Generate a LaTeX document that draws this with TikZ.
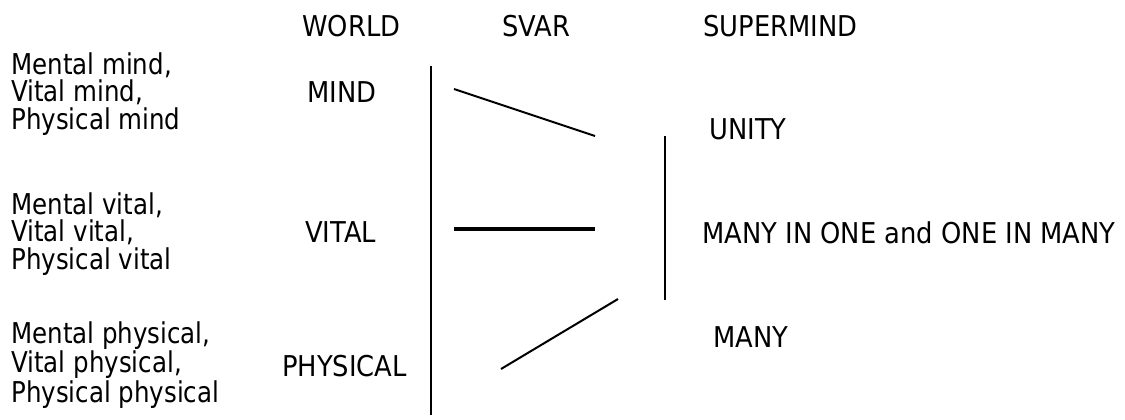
\documentclass[tikz,border=0pt]{standalone}
\usepackage{fontspec}
\setmainfont[FakeStretch=0.9]{DejaVu Sans}
\newfontfamily\rowfont[FakeStretch=0.855]{DejaVu Sans}

\begin{document}
\begin{tikzpicture}[
    % 坐标单位:按像素换算,y 轴向下
    x=0.75pt, y=-0.75pt,
    % 文字样式:统一字号,以基线左端定位
    mytext/.style={
        font=\fontsize{21.5}{20.5}\selectfont, % 字号与行距
        inner sep=0pt, % 消除默认留白
        anchor=base west % 基线左端对齐
        },
    % 多行文字块:左对齐(基线取最后一行),字形略窄
    myblock/.style={mytext, align=left, font=\rowfont\fontsize{21.5}{20.5}\selectfont},
    % 线条样式:细线与粗线
    myline/.style={line width=1.5pt},
    mythick/.style={line width=3pt}
    ]
    \useasboundingbox (0,0) rectangle (1125,419);
    % ========== 第一步:顶部三列标题 ==========
    \foreach \name/\label/\x in {world/WORLD/302, svar/SVAR/502, supermind/SUPERMIND/703} {
        \node [mytext] (\name) at (\x, 36) {\label};
    }
    % ========== 第二步:左侧三组文字 + 层级名称 ==========
    \foreach \name/\word/\y in {mindrows/mind/129, vitalrows/vital/269, physrows/physical/402} {
        \node [myblock] (\name) at (11, \y) {Mental \word,\\Vital \word,\\Physical \word};
    }
    \foreach \name/\label/\x/\y in {mind/MIND/307/102, vital/VITAL/305/242, physical/PHYSICAL/282/376} {
        \node [mytext] (\name) at (\x, \y) {\label};
    }
    % ========== 第三步:右侧标注 ==========
    \foreach \name/\label/\x/\y in {unity/UNITY/709/139, manyone/MANY IN ONE and ONE IN MANY/702/243, many/MANY/713/347} {
        \node [mytext] (\name) at (\x, \y) {\label};
    }
    % ========== 第四步:线段端点 ==========
    \coordinate (worldtop) at (431, 66);
    \coordinate (worldbot) at (431, 415);
    \coordinate (supertop) at (665, 136);
    \coordinate (superbot) at (665, 300);
    \coordinate (mindA) at (454, 89);
    \coordinate (mindB) at (595, 136);
    \coordinate (vitalA) at (454, 229);
    \coordinate (vitalB) at (595, 229);
    \coordinate (physA) at (501, 369);
    \coordinate (physB) at (618, 299);
    % ========== 第五步:绘制线段 ==========
    \foreach \start/\end in {worldtop/worldbot, supertop/superbot, mindA/mindB, physA/physB} {
        \draw [myline] (\start) -- (\end);
    }
    \draw [mythick] (vitalA) -- (vitalB); % 中间粗线
\end{tikzpicture}
\end{document}
